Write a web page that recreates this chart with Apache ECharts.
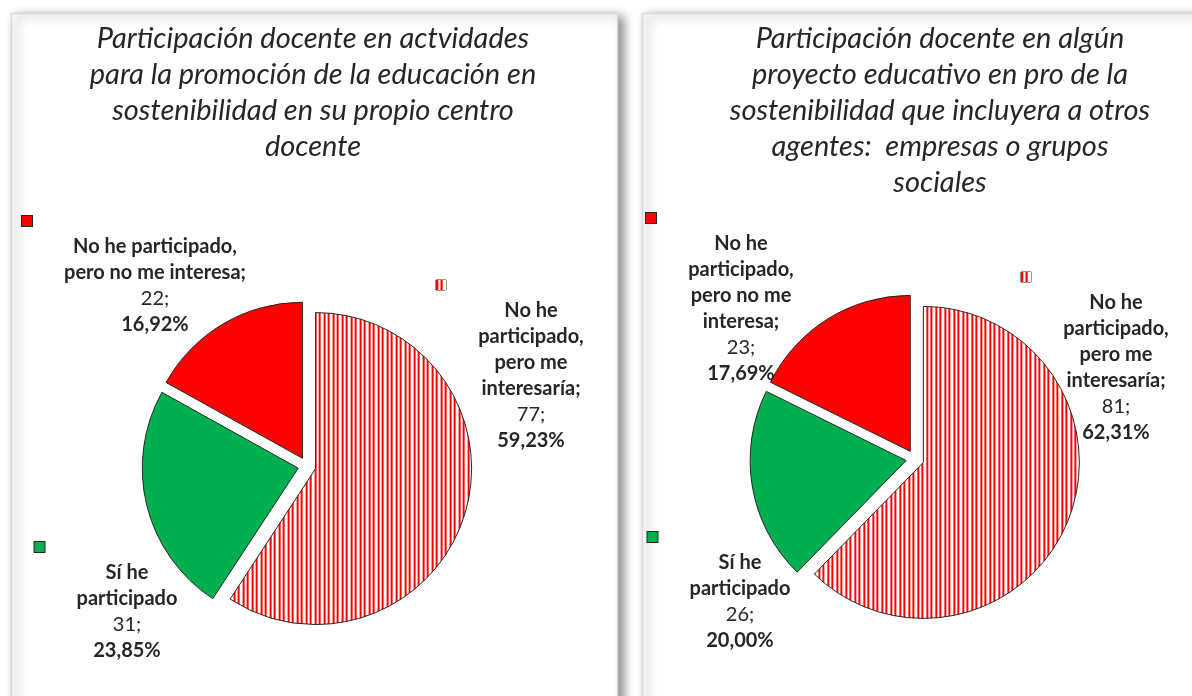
<!DOCTYPE html>
<html>
<head>
<meta charset="utf-8">
<title>Participación docente</title>
<script src="https://cdn.jsdelivr.net/npm/echarts@6/dist/echarts.min.js"></script>
<style>
  html, body { margin: 0; padding: 0; background: #fff; }
  #main { width: 1192px; height: 696px; }
</style>
</head>
<body>
<div id="main"></div>
<script>
// datos de las dos gráficas
var categories = ['No he participado, pero me interesaría', 'Sí he participado', 'No he participado, pero no me interesa'];
var valuesLeft = [77, 31, 22];
var valuesRight = [81, 26, 23];
// cortes de línea de las etiquetas (como en el original)
var labelLinesLeft = [
    ['No he', 'participado,', 'pero me', 'interesaría;'],
    ['Sí he', 'participado'],
    ['No he participado,', 'pero no me interesa;']
];
var labelLinesRight = [
    ['No he', 'participado,', 'pero me', 'interesaría;'],
    ['Sí he', 'participado'],
    ['No he', 'participado,', 'pero no me', 'interesa;']
];
var titleLeft = 'Participación docente en actvidades\npara la promoción de la educación en\nsostenibilidad en su propio centro\ndocente';
var titleRight = 'Participación docente en algún\nproyecto educativo en pro de la\nsostenibilidad que incluyera a otros\nagentes:  empresas o grupos\nsociales';

//layout
var font = 'Lato';
var textColor = '#262626';
var labelSize = 20;
var centerLeft = [307, 466];
var centerRight = [915, 459];
var radius = 156;
// posición del texto de cada etiqueta respecto al centro del pastel
var labelOffLeft = [[224, -90], [-180, 146], [-152, -180]];
var labelOffRight = [[201, -91], [-175, 143], [-174, -150]];
var markerGap = 42;

//patrón de rayas verticales
var stripes = document.createElement('canvas');
stripes.width = 9; stripes.height = 4;
var sctx = stripes.getContext('2d');
sctx.fillStyle = '#fff';
sctx.fillRect(0, 0, 9, 4);
sctx.fillStyle = '#ff0000';
sctx.fillRect(0, 0, 2, 4);
sctx.fillRect(4, 0, 2, 4);
var stripeFill = {image: stripes, repeat: 'repeat'};
var colors = [stripeFill, '#00b050', '#ff0000'];

function maxWidth(lines){
    var ctx = document.createElement('canvas').getContext('2d');
    ctx.font = 'bold ' + labelSize + 'px ' + font;
    var w = 0;
    lines.forEach(function(l){ w = Math.max(w, ctx.measureText(l).width); });
    return Math.ceil(w);
}

function richStyles(){
    var rich = {
        b: {fontFamily: font, fontWeight: 'bold', fontSize: labelSize, lineHeight: 26, color: textColor, align: 'center'},
        n: {fontFamily: font, fontWeight: 'normal', fontSize: labelSize, lineHeight: 26, color: textColor, align: 'center'}
    };
    colors.forEach(function(c, i){
        rich['mk' + i] = {width: 10, height: 10, lineHeight: 26, backgroundColor: c,
            borderColor: textColor, borderWidth: 1, align: 'left'};
    });
    return rich;
}

function sum(arr){
    return arr.reduce(function(a, b){ return a + b; }, 0);
}

//sectores (todos separados)
function makePie(values, center){
    return {
        type: 'pie',
        center: center,
        radius: radius,
        startAngle: 90,
        clockwise: true,
        selectedMode: 'multiple',
        selectedOffset: 9,
        animation: false,
        emphasis: {disabled: true},
        itemStyle: {borderColor: textColor, borderWidth: 1},
        label: {show: false},
        labelLine: {show: false},
        data: values.map(function(v, i){
            return {value: v, name: categories[i], selected: true, itemStyle: {color: colors[i]}};
        })
    };
}

//etiquetas con su marcador de leyenda
function makeLabels(values, lines, center, offs){
    return {
        type: 'pie',
        center: center,
        radius: radius,
        startAngle: 90,
        clockwise: true,
        silent: true,
        animation: false,
        avoidLabelOverlap: false,
        z: 3,
        itemStyle: {color: 'rgba(0,0,0,0)', borderWidth: 0},
        labelLine: {show: false},
        label: {
            show: true,
            position: 'outside',
            overflow: 'none',
            formatter: function(p){
                var pct = p.percent.toFixed(2).replace('.', ',');
                return '{mk' + p.dataIndex + '|}\n' +
                    lines[p.dataIndex].map(function(l){ return '{b|' + l + '}'; }).join('\n') +
                    '\n{n|' + p.value + ';}\n{b|' + pct + '%}';
            },
            rich: richStyles()
        },
        labelLayout: function(p){
            var o = offs[p.dataIndex];
            return {x: center[0] + o[0], y: center[1] + o[1] - 13, align: 'center', verticalAlign: 'middle'};
        },
        data: values.map(function(v, i){
            var pct = (v / sum(values) * 100).toFixed(2) + '%';
            return {
                value: v,
                name: categories[i],
                label: {width: maxWidth(lines[i].concat([pct])) + 2 * markerGap}
            };
        })
    };
}

var chart = echarts.init(document.getElementById('main'));
var panelStyle = {fill: '#fff', stroke: '#d9d9d9', lineWidth: 1.5,
    shadowBlur: 10, shadowOffsetX: 5, shadowOffsetY: 3, shadowColor: 'rgba(0,0,0,0.45)'};
var titleStyle = {fontFamily: font, fontStyle: 'italic', fontWeight: 'normal', fontSize: 29, lineHeight: 36, color: textColor};
var option = {
    backgroundColor: '#fff',
    graphic: [
        {type: 'rect', z: 0, shape: {x: 11.5, y: 13.5, width: 606, height: 720}, style: panelStyle},
        {type: 'rect', z: 0, shape: {x: 642.5, y: 13.5, width: 600, height: 720}, style: panelStyle}
    ],
    title: [
        {text: titleLeft, left: 313, top: 21, padding: 0, textAlign: 'center', textStyle: titleStyle},
        {text: titleRight, left: 940, top: 21, padding: 0, textAlign: 'center', textStyle: titleStyle}
    ],
    series: [
        makePie(valuesLeft, centerLeft),
        makePie(valuesRight, centerRight),
        makeLabels(valuesLeft, labelLinesLeft, centerLeft, labelOffLeft),
        makeLabels(valuesRight, labelLinesRight, centerRight, labelOffRight)
    ]
};
chart.setOption(option);
</script>
</body>
</html>
